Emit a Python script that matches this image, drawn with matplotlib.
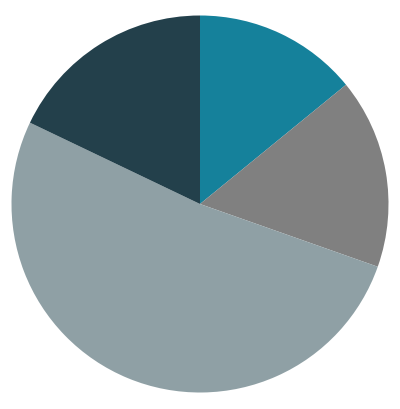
import matplotlib
matplotlib.use('Agg')
import matplotlib.pyplot as plt

# slice shares, clockwise from 12 o'clock
labels = ['A', 'B', 'C', 'D']
values = [14.1, 16.3, 51.7, 17.9]
colors = ['#15819b', '#808080', '#8fa0a5', '#23404b']

fig = plt.figure(figsize=(4, 4.09), dpi=100)
cx, cy, r = 200, 205, 188.5
ax = fig.add_axes([(cx - r) / 400, (cy - r) / 409, 2 * r / 400, 2 * r / 409])

ax.pie(values, colors=colors, startangle=90, counterclock=False,
       radius=1, wedgeprops={'linewidth': 0})
ax.set_xlim(-1, 1)
ax.set_ylim(-1, 1)
ax.set_aspect('equal')
ax.axis('off')

fig.savefig('out.png', dpi=100)
